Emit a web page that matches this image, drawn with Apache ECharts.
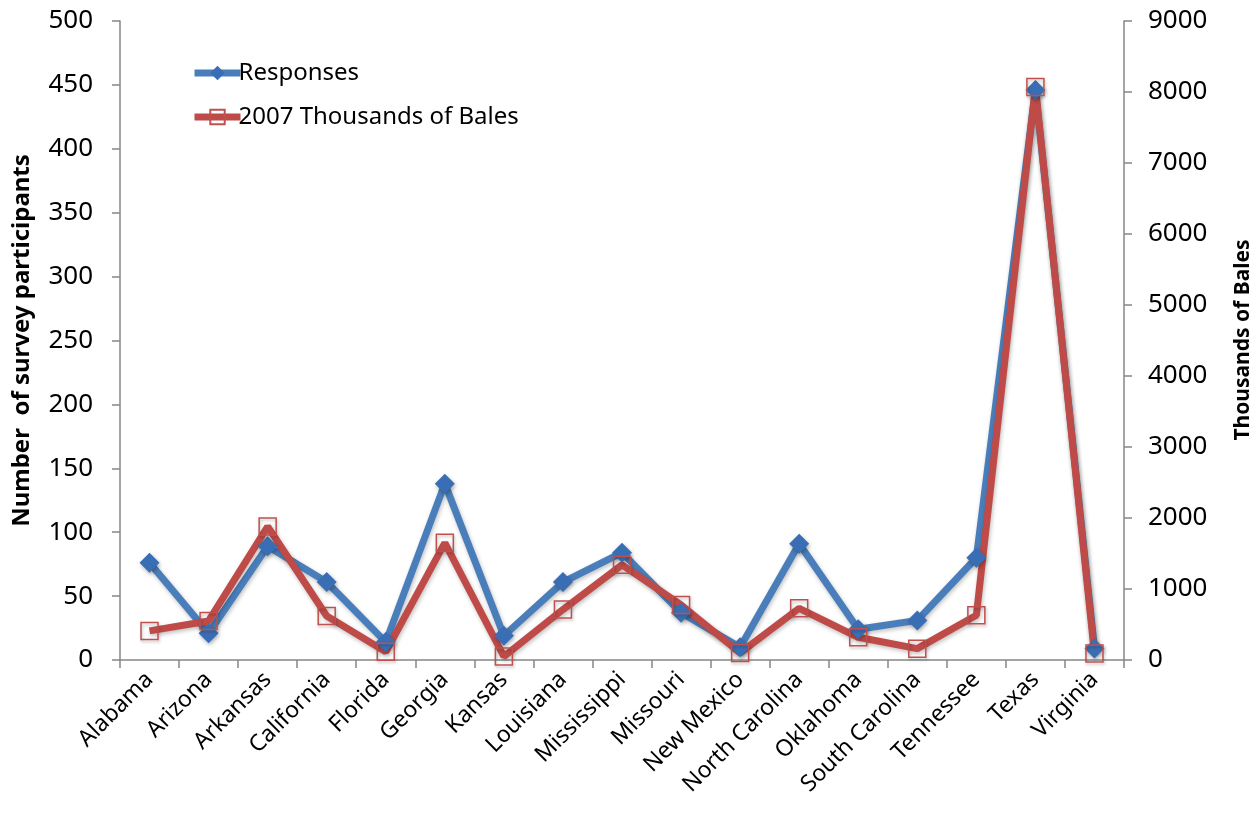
<!DOCTYPE html>
<html>
<head>
<meta charset="utf-8">
<script src="https://cdn.jsdelivr.net/npm/echarts@6/dist/echarts.min.js"></script>
<style>
html,body{margin:0;padding:0;background:#fff;}
#chart{width:1259px;height:825px;}
</style>
</head>
<body>
<div id="chart"></div>
<script>
const states = ["Alabama","Arizona","Arkansas","California","Florida","Georgia","Kansas","Louisiana","Mississippi","Missouri","New Mexico","North Carolina","Oklahoma","South Carolina","Tennessee","Texas","Virginia"];
const responses = [76, 21, 89, 61, 14, 138, 19, 61, 84, 37, 10, 91, 24, 31, 80, 446, 9];
const bales2007 = [410, 550, 1880, 620, 115, 1650, 50, 710, 1340, 775, 100, 728, 320, 160, 630, 8070, 90];

const FONT = '"Noto Sans", "Open Sans", sans-serif';
const axisGray = '#868686';
const chart = echarts.init(document.getElementById('chart'), null, {renderer:'canvas'});
chart.setOption({
  animation: false,
  backgroundColor: '#ffffff',
  textStyle: {fontFamily: FONT},
  grid: {left: 120, right: 135, top: 21, bottom: 165, containLabel: false},
  graphic: [
    {
      type: 'text', x: 1243, y: 340, rotation: Math.PI / 2,
      style: {text: 'Thousands of Bales', fontFamily: FONT, fontSize: 21, fontWeight: 'bold', fill: '#000',
              align: 'center', verticalAlign: 'middle'}
    }
  ],
  legend: {
    orient: 'vertical', left: 186, top: 56, itemGap: 20,
    itemWidth: 46, itemHeight: 18,
    textStyle: {fontFamily: FONT, fontSize: 24, color: '#000', padding: [0,0,0,-7]},
    data: [
      {name: 'Responses', lineStyle: {width: 7}},
      {name: '2007 Thousands of Bales', lineStyle: {width: 7}}
    ]
  },
  xAxis: {
    type: 'category', data: states, boundaryGap: true,
    axisLine: {lineStyle: {color: axisGray, width: 1.5}},
    axisTick: {show: true, alignWithLabel: false, length: 8, lineStyle: {color: axisGray, width: 1.5}},
    axisLabel: {rotate: 45, interval: 0, margin: 16, fontSize: 23, color: '#000', fontFamily: FONT}
  },
  yAxis: [
    {
      type: 'value', min: 0, max: 500, interval: 50, position: 'left',
      name: 'Number  of survey participants', nameLocation: 'middle', nameGap: 86, nameRotate: 90,
      nameTextStyle: {fontSize: 24, fontWeight: 'bold', color: '#000', fontFamily: FONT},
      axisLine: {show: true, lineStyle: {color: axisGray, width: 1.5}},
      axisTick: {show: true, length: 8, lineStyle: {color: axisGray, width: 1.5}},
      axisLabel: {margin: 27, fontSize: 26, color: '#000', fontFamily: FONT},
      splitLine: {show: false}
    },
    {
      type: 'value', min: 0, max: 9000, interval: 1000, position: 'right',
      axisLine: {show: true, lineStyle: {color: axisGray, width: 1.5}},
      axisTick: {show: true, length: 8, lineStyle: {color: axisGray, width: 1.5}},
      axisLabel: {margin: 24, fontSize: 26, color: '#000', fontFamily: FONT, formatter: function (v) { return String(v); }},
      splitLine: {show: false}
    }
  ],
  series: [
    {
      name: 'Responses', type: 'line', yAxisIndex: 0, data: responses,
      symbol: 'diamond', symbolSize: 20, showAllSymbol: true,
      lineStyle: {color: '#4A7EBB', width: 7, shadowBlur: 4, shadowColor: 'rgba(0,0,0,0.25)', shadowOffsetX: 1, shadowOffsetY: 2},
      itemStyle: {color: '#3A6EB4', borderWidth: 0, shadowBlur: 4, shadowColor: 'rgba(0,0,0,0.3)', shadowOffsetX: 1, shadowOffsetY: 2}
    },
    {
      name: '2007 Thousands of Bales', type: 'line', yAxisIndex: 1, data: bales2007,
      symbol: 'rect', symbolSize: 17, showAllSymbol: true,
      lineStyle: {color: '#BE4B48', width: 7, shadowBlur: 4, shadowColor: 'rgba(0,0,0,0.25)', shadowOffsetX: 1, shadowOffsetY: 2},
      itemStyle: {color: 'rgba(255,255,255,0)', borderColor: '#C0504D', borderWidth: 1.5, shadowBlur: 3, shadowColor: 'rgba(0,0,0,0.25)', shadowOffsetX: 1, shadowOffsetY: 2}
    }
  ]
});
</script>
</body>
</html>
